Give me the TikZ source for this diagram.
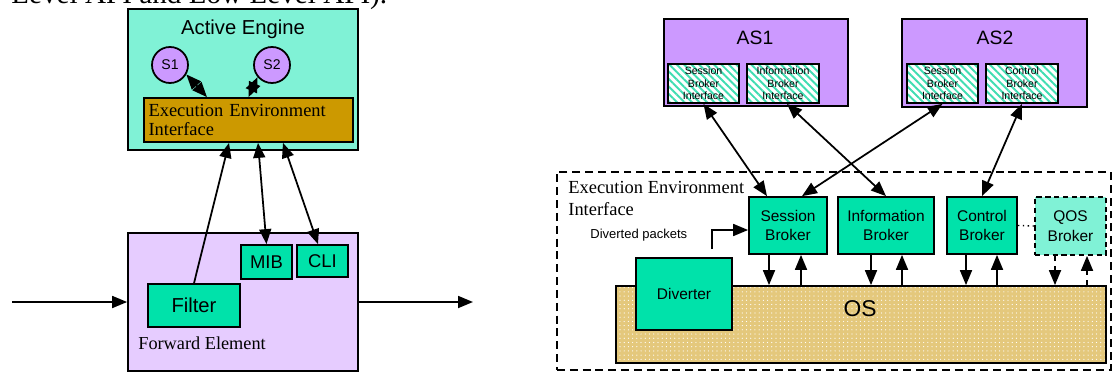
\documentclass[tikz,border=0pt]{standalone}
\usepackage{fontspec}
\setmainfont{Liberation Serif}
\setsansfont{Liberation Sans}
\renewcommand{\familydefault}{\sfdefault}
\usetikzlibrary{arrows.meta,patterns.meta}
\definecolor{engine}{HTML}{80F2D6}
\definecolor{brokerfill}{HTML}{00E2AA}
\definecolor{lilac}{HTML}{CC99FF}
\definecolor{palelilac}{HTML}{E6CCFF}
\definecolor{eeifill}{HTML}{CC9900}
\definecolor{osfill}{HTML}{E4C87C}
\definecolor{hatch}{HTML}{40DDB2}
\tikzset{
  shell/.style={draw, line width=1pt, inner sep=0pt},
  module/.style={shell, fill=brokerfill, font=\sffamily\fontsize{10.5}{12}\selectfont},
  svc/.style={draw, circle, line width=1pt, fill=lilac, minimum size=0.72cm, inner sep=0pt, font=\sffamily\fontsize{8}{9}\selectfont},
  broker/.style={shell, fill=brokerfill, align=center, minimum height=1.14cm, font=\sffamily\fontsize{8.8}{11.3}\selectfont},
  iface/.style={shell, preaction={fill=white}, pattern={Lines[angle=-45,distance=3pt,line width=1.1pt]}, pattern color=hatch,
    align=center, minimum width=1.43cm, minimum height=0.78cm, font=\sffamily\fontsize{6}{7.2}\selectfont},
  eeframe/.style={draw, line width=1pt, dash pattern=on 4.5pt off 2.8pt},
  arrow/.style={-{Triangle[length=0.3cm,width=0.24cm]}, line width=1pt},
  twoway/.style={{Triangle[length=0.3cm,width=0.24cm]}-{Triangle[length=0.3cm,width=0.24cm]}, line width=1pt}
}

\begin{document}
\begin{tikzpicture}[font=\sffamily]
  \useasboundingbox (0,0) rectangle (22.26,7.44);
  % last line of the running text, cut by the page edge
  \node[anchor=base west, inner sep=0pt, font=\rmfamily\fontsize{16.6}{20}\selectfont] (runon) at (0.22,7.36) {Level API and Low Level API).};

  % active engine above the forward element
  \node[shell, fill=engine, minimum width=4.6cm, minimum height=2.82cm] (engine) at (4.86,5.85) {};
  \node[font=\sffamily\fontsize{11.5}{13}\selectfont] (enginename) at (4.86,6.86) {Active Engine};
  \node[svc] (s1) at (3.40,6.14) {S1};
  \node[svc] (s2) at (5.44,6.14) {S2};
  \node[shell, fill=eeifill, minimum width=4.18cm, minimum height=0.88cm, text width=4.0cm, align=left,
    font=\rmfamily\fontsize{10.5}{11.3}\selectfont] (eei) at (4.97,5.04) {Execution Environment\\Interface};

  \node[shell, fill=palelilac, minimum width=4.6cm, minimum height=2.76cm] (fwd) at (4.86,1.40) {};
  \node[anchor=west, inner sep=0pt, font=\rmfamily\fontsize{10.4}{12}\selectfont] (fwdname) at (2.76,0.58) {Forward Element};
  \node[module, minimum width=1.84cm, minimum height=0.86cm, font=\sffamily\fontsize{11.5}{13}\selectfont] (filter) at (3.88,1.33) {Filter};
  \node[module, minimum width=1.02cm, minimum height=0.68cm] (mib) at (5.33,2.20) {MIB};
  \node[module, minimum width=1.02cm, minimum height=0.64cm] (cli) at (6.45,2.22) {CLI};

  \coordinate (pktin) at (0.24,1.40);
  \coordinate (pktout) at (9.46,1.40);
  \draw[arrow] (pktin) -- (fwd.west);
  \draw[arrow] (fwd.east) -- (pktout);
  \draw[arrow] (filter.north) -- ([xshift=-0.39cm]eei.south);
  \draw[twoway] (mib.north) -- ([xshift=0.19cm]eei.south);
  \draw[twoway] ([xshift=-0.09cm]cli.north) -- ([xshift=0.69cm]eei.south);
  \draw[twoway] ([xshift=-0.83cm]eei.north) -- (s1.-30);
  \draw[twoway] (eei.north) -- (s2.220);

  % execution environment with its brokers
  \node[eeframe, minimum width=11.08cm, minimum height=3.96cm] (ee) at (16.68,2.02) {};
  \node[anchor=west, align=left, inner sep=0pt, font=\rmfamily\fontsize{10.5}{12.5}\selectfont] (eename) at (11.36,3.48) {Execution Environment\\Interface};

  \node[shell, fill=lilac, minimum width=3.68cm, minimum height=1.74cm] (as1) at (15.12,6.19) {};
  \node[font=\sffamily\fontsize{11}{13}\selectfont] (as1name) at (15.10,6.68) {AS1};
  \node[iface] (sbi1) at (14.07,5.77) {Session\\Broker\\Interface};
  \node[iface] (ibi1) at (15.66,5.77) {Information\\Broker\\Interface};

  \node[shell, fill=lilac, minimum width=3.70cm, minimum height=1.76cm] (as2) at (19.89,6.18) {};
  \node[font=\sffamily\fontsize{11}{13}\selectfont] (as2name) at (19.90,6.68) {AS2};
  \node[iface] (sbi2) at (18.85,5.77) {Session\\Broker\\Interface};
  \node[iface] (cbi2) at (20.44,5.77) {Control\\Broker\\Interface};

  \node[broker, minimum width=1.56cm] (sb) at (15.76,2.93) {Session\\Broker};
  \node[broker, minimum width=1.92cm] (ib) at (17.72,2.93) {Information\\Broker};
  \node[broker, minimum width=1.40cm] (cb) at (19.64,2.93) {Control\\Broker};
  \node[broker, fill=engine, dash pattern=on 3pt off 2pt, minimum width=1.42cm, minimum height=1.16cm] (qb) at (21.41,2.92) {QOS\\Broker};
  \draw[dotted, line width=0.8pt] (cb.east) -- (qb.west);

  \node[shell, preaction={fill=osfill}, pattern={Dots[distance=2.4pt,radius=0.35pt]}, pattern color=white,
    minimum width=9.80cm, minimum height=1.54cm] (os) at (17.22,0.95) {};
  \node[font=\sffamily\fontsize{13}{15}\selectfont] (osname) at (17.20,1.26) {OS};
  \node[broker, minimum width=1.92cm, minimum height=1.44cm] (dvt) at (13.68,1.56) {Diverter};

  \node[anchor=west, inner sep=0pt, font=\sffamily\fontsize{7.4}{9}\selectfont] (divname) at (11.80,2.74) {Diverted packets};
  \coordinate (divtail) at (14.24,2.46);
  \draw[arrow] (divtail) |- ([yshift=-0.09cm]sb.west);

  \draw[twoway] (sbi1.south) -- ([xshift=-0.42cm]sb.north);
  \draw[twoway] ([xshift=0.08cm]ibi1.south) -- (ib.north);
  \draw[twoway] (sbi2.south) -- ([xshift=0.28cm]sb.north);
  \draw[twoway] (cbi2.south) -- (cb.north);

  % brokers talk to the OS both ways
  \draw[arrow] ([xshift=-0.38cm]sb.south) -- ([xshift=-0.38cm]sb.south |- os.north);
  \draw[arrow] ([xshift=0.26cm]sb.south |- os.north) -- ([xshift=0.26cm]sb.south);
  \draw[arrow] ([xshift=-0.30cm]ib.south) -- ([xshift=-0.30cm]ib.south |- os.north);
  \draw[arrow] ([xshift=0.32cm]ib.south |- os.north) -- ([xshift=0.32cm]ib.south);
  \draw[arrow] ([xshift=-0.32cm]cb.south) -- ([xshift=-0.32cm]cb.south |- os.north);
  \draw[arrow] ([xshift=0.30cm]cb.south |- os.north) -- ([xshift=0.30cm]cb.south);
  \draw[arrow, dashed] ([xshift=-0.31cm]qb.south) -- ([xshift=-0.31cm]qb.south |- os.north);
  \draw[arrow, dashed] ([xshift=0.33cm]qb.south |- os.north) -- ([xshift=0.33cm]qb.south);
\end{tikzpicture}
\end{document}
